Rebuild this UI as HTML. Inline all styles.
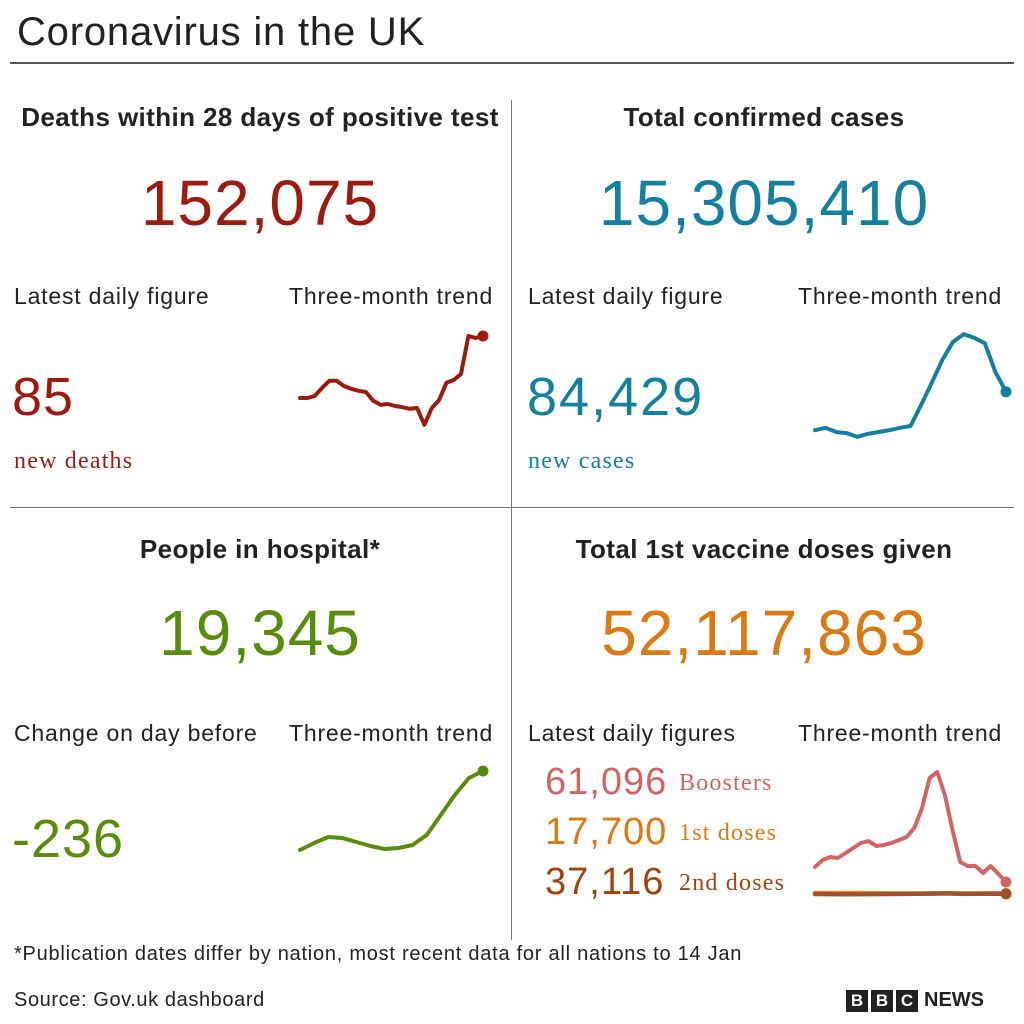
<!DOCTYPE html>
<html><head><meta charset="utf-8"><style>
body{margin:0;width:1024px;height:1024px;background:#fff;font-family:"Liberation Sans",sans-serif;color:#222;position:relative;overflow:hidden}
.t{position:absolute;white-space:nowrap}
.h{font-weight:bold;font-size:26px;letter-spacing:0.4px;text-align:center}
.big{font-size:64px;letter-spacing:1px;text-align:center}
.lab{font-size:23px;letter-spacing:0.8px;color:#222}
.ser{font-family:"Liberation Serif",serif;font-size:24px;letter-spacing:1.2px}
.line{position:absolute;background:#999}
</style></head><body>
<div class="t" style="left:17px;top:10px;font-size:40px;letter-spacing:0.8px">Coronavirus in the UK</div>
<div class="line" style="left:10px;top:62px;width:1004px;height:2px;background:#555"></div>
<div class="line" style="left:511px;top:100px;width:1px;height:840px;background:#777"></div>
<div class="line" style="left:10px;top:507px;width:1004px;height:1px;background:#777"></div>

<div class="t h" style="left:10px;width:500px;top:102px">Deaths within 28 days of positive test</div>
<div class="t big" style="left:10px;width:500px;top:166px;color:#9c1a0e">152,075</div>
<div class="t lab" style="left:14px;top:283px">Latest daily figure</div>
<div class="t lab" style="left:289px;top:283px">Three-month trend</div>
<div class="t" style="left:12px;top:366px;font-size:54px;letter-spacing:1px;color:#9c1a0e">85</div>
<div class="t ser" style="left:14px;top:448px;color:#9c1a0e">new deaths</div>

<div class="t h" style="left:514px;width:500px;top:102px">Total confirmed cases</div>
<div class="t big" style="left:514px;width:500px;top:166px;color:#1380a1">15,305,410</div>
<div class="t lab" style="left:528px;top:283px">Latest daily figure</div>
<div class="t lab" style="left:798px;top:283px">Three-month trend</div>
<div class="t" style="left:527px;top:366px;font-size:54px;letter-spacing:2px;color:#1380a1">84,429</div>
<div class="t ser" style="left:528px;top:448px;color:#1380a1">new cases</div>

<div class="t h" style="left:10px;width:500px;top:534px">People in hospital*</div>
<div class="t big" style="left:10px;width:500px;top:596px;color:#588c0b">19,345</div>
<div class="t lab" style="left:14px;top:720px">Change on day before</div>
<div class="t lab" style="left:289px;top:720px">Three-month trend</div>
<div class="t" style="left:12px;top:808px;font-size:54px;letter-spacing:1px;color:#588c0b">-236</div>

<div class="t h" style="left:514px;width:500px;top:534px">Total 1st vaccine doses given</div>
<div class="t big" style="left:514px;width:500px;top:596px;color:#db7a13">52,117,863</div>
<div class="t lab" style="left:528px;top:720px">Latest daily figures</div>
<div class="t lab" style="left:798px;top:720px">Three-month trend</div>
<div class="t" style="left:545px;top:761px;font-size:38px;letter-spacing:1px;color:#d46464">61,096</div>
<div class="t ser" style="left:679px;top:770px;color:#d46464">Boosters</div>
<div class="t" style="left:545px;top:811px;font-size:38px;letter-spacing:1px;color:#db7a13">17,700</div>
<div class="t ser" style="left:679px;top:820px;color:#db7a13">1st doses</div>
<div class="t" style="left:545px;top:861px;font-size:38px;letter-spacing:1px;color:#a0430d">37,116</div>
<div class="t ser" style="left:679px;top:870px;color:#a0430d">2nd doses</div>

<div class="t" style="left:14px;top:943px;font-size:20px;letter-spacing:0.75px">*Publication dates differ by nation, most recent data for all nations to 14 Jan</div>
<div class="t" style="left:14px;top:989px;font-size:20px;letter-spacing:0.6px">Source: Gov.uk dashboard</div>
<div class="t" style="left:846px;top:989px;display:flex;gap:3px;align-items:center">
<span style="background:#222;color:#fff;font-weight:bold;font-size:17px;width:22px;height:22px;display:inline-block;text-align:center;line-height:22px">B</span><span style="background:#222;color:#fff;font-weight:bold;font-size:17px;width:22px;height:22px;display:inline-block;text-align:center;line-height:22px">B</span><span style="background:#222;color:#fff;font-weight:bold;font-size:17px;width:22px;height:22px;display:inline-block;text-align:center;line-height:22px">C</span><span style="font-size:20px;font-weight:bold;margin-left:3px;color:#222">NEWS</span></div>

<svg id="spark" width="1024" height="1024" style="position:absolute;left:0;top:0"></svg>
<script>
const deaths=[105,105,110,130,148,148,135,128,123,120,98,88,90,85,82,78,80,38,80,100,143,150,165,260,255,260];
const cases=[33,37,30,28,22,27,30,33,37,40,75,112,150,180,193,187,178,130,97];
const hospital=[7830,8890,9800,9650,9040,8430,7980,8130,8590,10110,13150,16200,18790,19850];
const boosters=[224,280,304,296,336,376,416,432,392,400,416,440,464,536,696,936,984,800,520,264,232,232,176,232,168,104];
const firstDoses=[16,16,15,16,14,13,12,12,13,14,13,12,13,12];
const secondDoses=[8,7,6,7,7,8,9,10,11,13,9,10,11,9];
const svg=document.getElementById('spark');
function lin(d0,d1,r0,r1){return v=>r0+(v-d0)/(d1-d0)*(r1-r0);}
function draw(arr,x0,x1,ys,color,name,w){
  const xs=lin(0,arr.length-1,x0,x1);
  const pts=arr.map((v,i)=>xs(i).toFixed(1)+','+ys(v).toFixed(1)).join(' ');
  const p=document.createElementNS('http://www.w3.org/2000/svg','polyline');
  
  
  p.setAttribute('points',pts);p.setAttribute('fill','none');p.setAttribute('stroke',color);
  p.setAttribute('stroke-width',w);p.setAttribute('stroke-linejoin','round');p.setAttribute('stroke-linecap','round');
  svg.appendChild(p);
  const c=document.createElementNS('http://www.w3.org/2000/svg','circle');
  
  
  c.setAttribute('cx',xs(arr.length-1));c.setAttribute('cy',ys(arr[arr.length-1]));c.setAttribute('r',5.5);c.setAttribute('fill',color);
  svg.appendChild(c);
}
draw(deaths,300,483,lin(0,300,440,320),'#9c1a0e','deaths-trend-line',4);
draw(cases,815,1006,lin(0,200,450,330),'#1380a1','cases-trend-line',4);
draw(hospital,300,483,lin(6000,20000,862,770),'#588c0b','hospital-trend-line',4);
const vs=lin(0,1000,895,770);
draw(firstDoses,815,1006,vs,'#f0931d','first-doses-trend-line',4.5);
draw(secondDoses,815,1006,vs,'#a0522d','second-doses-trend-line',4.5);
draw(boosters,815,1006,vs,'#d46464','boosters-trend-line',4);
</script>
</body></html>
